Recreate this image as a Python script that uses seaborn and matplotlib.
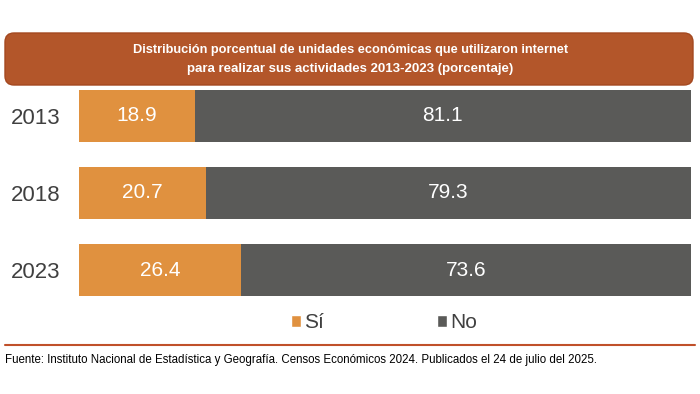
import matplotlib
matplotlib.use("Agg")
import matplotlib.pyplot as plt
from matplotlib.patches import FancyBboxPatch, Patch
import pandas as pd
import seaborn as sns

years = ["2013", "2018", "2023"]
si_values = [18.9, 20.7, 26.4]
no_values = [81.1, 79.3, 73.6]

title_lines = [
    "Distribución porcentual de unidades económicas que utilizaron internet",
    "para realizar sus actividades 2013-2023 (porcentaje)",
]
source_text = ("Fuente: Instituto Nacional de Estadística y Geografía. Censos Económicos 2024. "
               "Publicados el 24 de julio del 2025.")

ORANGE = "#E0913F"
GRAY = "#5A5A58"
BROWN = "#B3562A"
TEXT = "#404040"

sns.set_style("white")
plt.rcParams["font.family"] = ["Liberation Sans", "DejaVu Sans"]

df = pd.DataFrame({"year": years, "si": si_values, "no": no_values})
df["total"] = df["si"] + df["no"]

fig = plt.figure(figsize=(7, 3.94), dpi=100)


def fit_width(txt, target_px):
    # shrink/grow font so the text spans about target_px
    r = fig.canvas.get_renderer()
    w = txt.get_window_extent(renderer=r).width
    txt.set_fontsize(txt.get_fontsize() * target_px / w)


# background layer in pixel coordinates
bg = fig.add_axes([0, 0, 1, 1])
bg.set_xlim(0, 700)
bg.set_ylim(394, 0)
bg.axis("off")

box = FancyBboxPatch((5, 33), 688, 52, boxstyle="round,pad=0,rounding_size=9",
                     facecolor=BROWN, edgecolor="#A4481F", linewidth=1)
bg.add_patch(box)
t1 = bg.text(350.5, 50, title_lines[0], ha="center", va="center", color="white",
             fontsize=10, fontweight="bold")
t2 = bg.text(350.5, 69, title_lines[1], ha="center", va="center", color="white",
             fontsize=10, fontweight="bold")
fit_width(t1, 435)
fit_width(t2, 327)
bg.plot([5, 695], [344.5, 344.5], color="#C0502A", linewidth=1.5)
src = bg.text(5, 360, source_text, ha="left", va="center", color="black", fontsize=9)
fit_width(src, 593)

# bars
ax = fig.add_axes([79 / 700, 1 - 296 / 394, (691 - 79) / 700, (296 - 90) / 394])
sns.barplot(data=df, x="total", y="year", order=years, color=GRAY, width=0.673,
            orient="h", ax=ax, saturation=1, linewidth=0)
sns.barplot(data=df, x="si", y="year", order=years, color=ORANGE, width=0.673,
            orient="h", ax=ax, saturation=1, linewidth=0)
ax.set_xlim(0, 100)
ax.set_ylim(2 + 0.3365, -0.3365)
ax.set_xlabel("")
ax.set_ylabel("")
ax.set_xticks([])
ax.tick_params(axis="y", length=0, pad=13.5, labelsize=16, labelcolor=TEXT)
for s in ax.spines.values():
    s.set_visible(False)

for i, (si, no) in enumerate(zip(si_values, no_values)):
    ax.text(si / 2, i, f"{si:.1f}", ha="center", va="center", color="white", fontsize=15)
    ax.text(si + no / 2, i, f"{no:.1f}", ha="center", va="center", color="white", fontsize=15)

handles = [Patch(facecolor=ORANGE, label="Sí"), Patch(facecolor=GRAY, label="No")]
fig.legend(handles=handles, loc="center", bbox_to_anchor=(384 / 700, 1 - 323 / 394), ncol=2,
           frameon=False, fontsize=15, handlelength=0.5, handleheight=0.5,
           handletextpad=0.15, columnspacing=5.4, labelcolor=TEXT)

fig.savefig("out.png", dpi=100)
